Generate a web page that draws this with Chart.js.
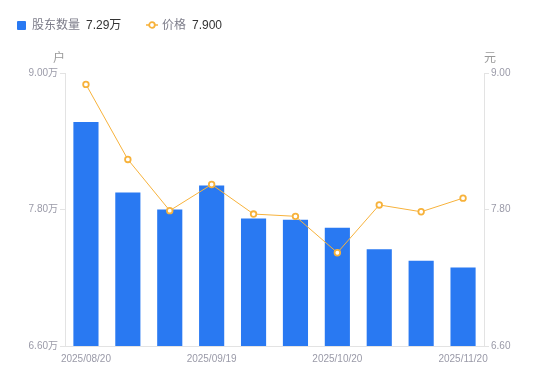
<!DOCTYPE html>
<html><head><meta charset="utf-8">
<script src="https://cdn.jsdelivr.net/npm/chart.js@4/dist/chart.umd.min.js"></script>
<style>
html,body{margin:0;padding:0;background:#fff;}
#wrap{position:relative;width:550px;height:381px;font-family:"Liberation Sans","Noto Sans CJK SC",sans-serif;}
canvas{position:absolute;left:0;top:0;}
.lg{position:absolute;top:15px;font-size:12px;line-height:20px;white-space:nowrap;}
.lg .n{color:#7d7d8a;}
.lg .v{color:#333;margin-left:6px;}
.unit{position:absolute;font-size:12px;color:#999;line-height:14px;font-family:"Noto Sans CJK SC",sans-serif;}
</style></head>
<body><div id="wrap">
<canvas id="c" width="550" height="381"></canvas>
<div class="lg" style="left:17px;"><span style="display:inline-block;width:9px;height:9px;background:#2979F2;border-radius:1px;margin-right:6px;vertical-align:-0.5px;"></span><span class="n">股东数量</span><span class="v">7.29万</span></div>
<div class="lg" style="left:146px;"><svg width="12" height="10" style="margin-right:4px;vertical-align:-0.5px"><line x1="0" y1="5" x2="12" y2="5" stroke="#F7B23B" stroke-width="1.5"/><circle cx="6" cy="5" r="2.8" fill="#fff" stroke="#F7B23B" stroke-width="1.8"/></svg><span class="n">价格</span><span class="v">7.900</span></div>
<div class="unit" style="left:53px;top:50px;">户</div>
<div class="unit" style="left:484px;top:50px;">元</div>
</div>
<script>
const categories = ["2025/08/20","2025/08/31","2025/09/10","2025/09/19","2025/09/30","2025/10/10","2025/10/20","2025/10/31","2025/11/10","2025/11/20"];
const holders = [8.57, 7.95, 7.80, 8.01, 7.72, 7.71, 7.64, 7.45, 7.35, 7.29];
const prices = [8.90, 8.24, 7.79, 8.02, 7.76, 7.74, 7.42, 7.84, 7.78, 7.90];
const leftTicks = [6.60, 7.80, 9.00];
const rightTicks = [6.60, 7.80, 9.00];

const axisColor = '#e3e3e3';
const tickColor = '#9a9aa8';
const tickFont = { size: 10, family: '"Liberation Sans","Noto Sans CJK SC",sans-serif' };
new Chart(document.getElementById('c'), {
  data: {
    labels: categories,
    datasets: [
      { type: 'line', label: '价格', data: prices, yAxisID: 'y1', borderColor: '#F7B23B', borderWidth: 1,
        pointRadius: 2.8, pointBorderWidth: 1.8, pointBackgroundColor: '#fff', pointBorderColor: '#F7B23B', tension: 0, order: 0 },
      { type: 'bar', label: '股东数量', data: holders, yAxisID: 'y', backgroundColor: '#2979F2',
        barPercentage: 0.6, categoryPercentage: 1.0, order: 1 }
    ]
  },
  options: {
    responsive: false, animation: false,
    layout: { padding: { top: 73, left: 0, right: 0, bottom: 0 } },
    plugins: { legend: { display: false }, tooltip: { enabled: false } },
    scales: {
      x: {
        offset: true,
        grid: { display: false, drawTicks: false },
        border: { display: true, color: axisColor },
        ticks: { autoSkip: false, maxRotation: 0, color: tickColor, padding: 7, font: tickFont,
          callback: (v, i) => (i % 3 === 0 ? categories[i] : '') },
        afterFit: s => { s.height = 35; }
      },
      y: {
        position: 'left', min: leftTicks[0], max: leftTicks[leftTicks.length-1],
        afterBuildTicks: s => { s.ticks = leftTicks.map(v => ({ value: v })); },
        grid: { drawOnChartArea: false, drawTicks: true, tickLength: 5, color: axisColor },
        border: { display: true, color: axisColor },
        ticks: { color: tickColor, padding: 2, font: tickFont, callback: v => v.toFixed(2) + '万' },
        afterFit: s => { s.width = 65; }
      },
      y1: {
        position: 'right', min: rightTicks[0], max: rightTicks[rightTicks.length-1],
        afterBuildTicks: s => { s.ticks = rightTicks.map(v => ({ value: v })); },
        grid: { drawOnChartArea: false, drawTicks: true, tickLength: 5, color: axisColor },
        border: { display: true, color: axisColor },
        ticks: { color: tickColor, padding: 2, font: tickFont, callback: v => v.toFixed(2) },
        afterFit: s => { s.width = 66; }
      }
    }
  }
});
</script>
</body></html>
